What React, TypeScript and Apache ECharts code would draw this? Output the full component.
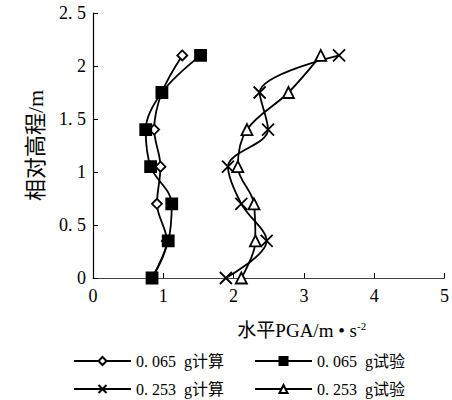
import React, { useEffect, useRef } from "react";
import * as echarts from "echarts";

const heights = [0, 0.35, 0.7, 1.05, 1.4, 1.75, 2.1];
const calc065 = [0.84, 1.05, 0.91, 0.96, 0.87, 0.98, 1.27];
const test065 = [0.84, 1.07, 1.12, 0.82, 0.75, 0.98, 1.53];
const calc253 = [1.89, 2.47, 2.11, 1.92, 2.49, 2.37, 3.5];
const test253 = [2.11, 2.31, 2.29, 2.06, 2.19, 2.78, 3.24];
const seriesNames = ["0. 065  g计算", "0. 065  g试验", "0. 253  g计算", "0. 253  g试验"];
const yTicks = ["0", "0. 5", "1", "1. 5", "2", "2. 5"];

const FONT = "'Liberation Serif', 'DejaVu Serif', 'Noto Sans CJK SC', serif";

export default function App() {
  const ref = useRef<HTMLDivElement>(null);
  useEffect(() => {
    if (!ref.current) return;
    const chart = echarts.init(ref.current, null, { renderer: "svg" });
    const pts = (xs: number[]) => xs.map((x, i) => [x, heights[i]]);
    const base = (name: string, data: number[], symbol: string, size: number, fill: string) => ({
      name,
      type: "line",
      data: pts(data),
      smooth: 0.35,
      symbol,
      symbolSize: size,
      lineStyle: { color: "#000", width: 1.8 },
      itemStyle: { color: fill, borderColor: "#000", borderWidth: 1.8 },
      z: 3,
    });
    chart.setOption({
      animation: false,
      grid: { left: 93, top: 13, right: 2, bottom: 122 },
      xAxis: {
        type: "value",
        min: 0,
        max: 5,
        interval: 1,
        name: "{a|水平PGA/m • s}{b|-2}",
        nameLocation: "middle",
        nameGap: 42,
        nameTextStyle: {
          padding: [0, 0, 0, 66],
          rich: {
            a: { fontFamily: FONT, fontSize: 19, color: "#000" },
            b: { fontFamily: FONT, fontSize: 11, color: "#000", verticalAlign: "top", padding: [0, 0, 10, 0] },
          },
        },
        axisLine: { lineStyle: { color: "#444", width: 1.2 } },
        axisTick: { inside: true, length: 5, lineStyle: { color: "#000" } },
        axisLabel: { color: "#000", fontFamily: FONT, fontSize: 18, margin: 9 },
        splitLine: { show: false },
      },
      yAxis: {
        type: "value",
        min: 0,
        max: 2.5,
        interval: 0.5,
        name: "相对高程/m",
        nameLocation: "middle",
        nameGap: 47,
        nameTextStyle: { fontFamily: FONT, fontSize: 22, color: "#000" },
        axisLine: { show: true, lineStyle: { color: "#000", width: 1.2 } },
        axisTick: { inside: true, length: 5, lineStyle: { color: "#000" } },
        axisLabel: {
          color: "#000",
          fontFamily: FONT,
          fontSize: 18,
          margin: 7,
          formatter: (v: number) => yTicks[Math.round(v / 0.5)],
        },
        splitLine: { show: false },
      },
      legend: [
        {
          data: [seriesNames[0], seriesNames[1]],
          left: 68,
          top: 348,
          itemWidth: 57,
          itemHeight: 10,
          itemGap: 30,
          textStyle: { fontFamily: FONT, fontSize: 16, color: "#000" },
        },
        {
          data: [seriesNames[2], seriesNames[3]],
          left: 68,
          top: 376,
          itemWidth: 57,
          itemHeight: 10,
          itemGap: 30,
          textStyle: { fontFamily: FONT, fontSize: 16, color: "#000" },
        },
      ],
      series: [
        base(seriesNames[0], calc065, "diamond", 10, "#fff"),
        base(seriesNames[1], test065, "rect", 11, "#000"),
        base(seriesNames[2], calc253, "path://M0,0L10,10M10,0L0,10", 12, "none"),
        base(seriesNames[3], test253, "triangle", 11, "#fff"),
      ],
    });
    return () => chart.dispose();
  }, []);
  return (
    <div
      ref={ref}
      style={{ position: "fixed", left: 0, top: 0, width: 452, height: 400, background: "#fff" }}
    />
  );
}
